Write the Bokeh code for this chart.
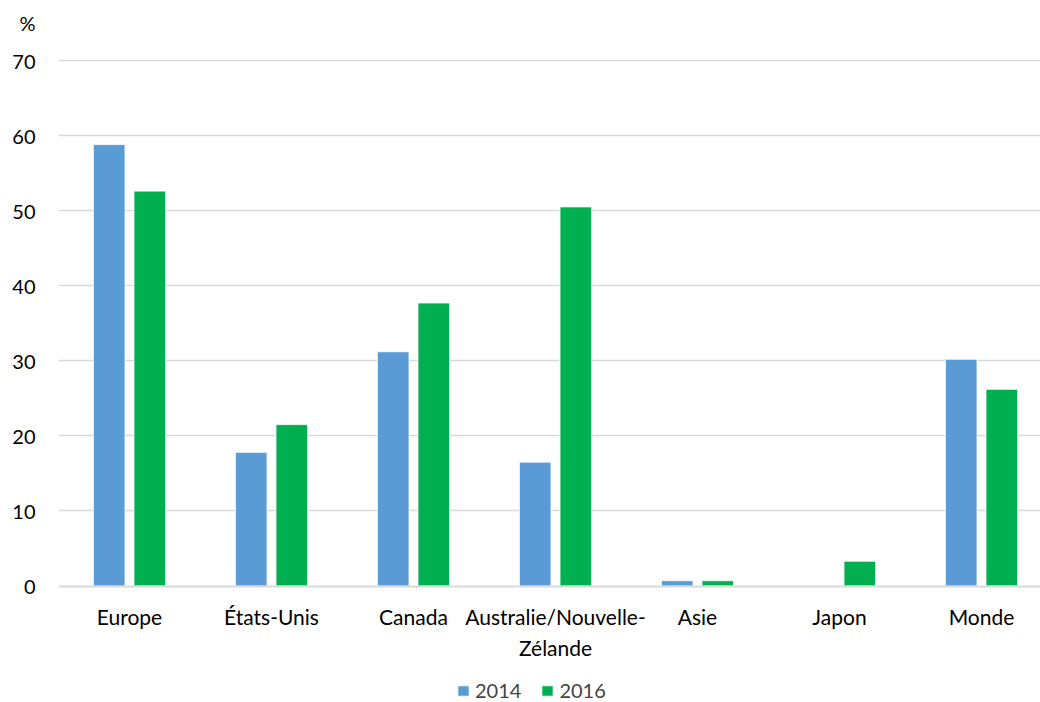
import numpy as np
from bokeh.plotting import figure
from bokeh.models import FixedTicker, Legend, LegendItem, Range1d, LinearAxis
from bokeh.embed import file_html
from bokeh.resources import INLINE

categories = ["Europe", "États-Unis", "Canada", "Australie/Nouvelle-\nZélande", "Asie", "Japon", "Monde"]
v2014 = [58.8, 17.8, 31.2, 16.5, 0.7, float("nan"), 30.2]
v2016 = [52.6, 21.5, 37.7, 50.5, 0.7, 3.3, 26.2]
series_names = ["2014", "2016"]
y_ticks = [0, 10, 20, 30, 40, 50, 60, 70]
unit_label = "%"

FONT = "Lato"
BLUE = "#5B9BD5"
GREEN = "#00B050"
GRID = "#D9D9D9"

idx = np.arange(len(categories))

# frame spans the full height of the canvas; 0..70 occupies y = 585.5 .. 60 px
PX_PER_UNIT = 525.5 / 70
y_top = 70 + 60 / PX_PER_UNIT
y_bottom = -(702 - 60 - 525.5) / PX_PER_UNIT
unit_pos = 70 + (60 - 22.5) / PX_PER_UNIT  # where the "%" unit sits, above the 70 tick

p = figure(width=1040, height=702, output_backend="svg", toolbar_location=None,
           x_range=Range1d(-0.5, -0.5 + 982 / 142), y_range=Range1d(y_bottom, y_top),
           min_border_left=58, min_border_right=0, min_border_top=0, min_border_bottom=0,
           outline_line_color=None, background_fill_color="white", border_fill_color="white",
           x_axis_location=None)

off = 0.143
w = 0.2225
r1 = p.vbar(x=idx - off, top=v2014, width=w, fill_color=BLUE, line_color="white", line_width=0.8)
r2 = p.vbar(x=idx + off, top=v2016, width=w, fill_color=GREEN, line_color="white", line_width=0.8)

# category axis drawn at y = 0 inside the frame
xax = LinearAxis(fixed_location=0)
xax.ticker = FixedTicker(ticks=list(idx))
xax.major_label_overrides = {int(i): c for i, c in zip(idx, categories)}
xax.major_tick_out = 0
xax.major_tick_in = 0
xax.minor_tick_out = 0
xax.minor_tick_in = 0
xax.axis_line_color = GRID
xax.axis_line_width = 2
xax.major_label_standoff = 18
xax.major_label_text_font = FONT
xax.major_label_text_font_size = "21px"
xax.major_label_text_color = "#000000"
xax.major_label_text_line_height = 1.22
p.add_layout(xax, "below")

p.yaxis.ticker = FixedTicker(ticks=y_ticks + [unit_pos])
p.yaxis.major_label_overrides = {unit_pos: unit_label}
p.yaxis.axis_line_color = None
p.yaxis.major_tick_out = 0
p.yaxis.major_tick_in = 0
p.yaxis.minor_tick_out = 0
p.yaxis.minor_tick_in = 0
p.yaxis.major_label_standoff = 23
p.yaxis.major_label_text_font = FONT
p.yaxis.major_label_text_font_size = "20px"
p.yaxis.major_label_text_color = "#000000"

p.xgrid.grid_line_color = None
p.ygrid.ticker = FixedTicker(ticks=y_ticks[1:])
p.ygrid.grid_line_color = GRID
p.ygrid.grid_line_width = 1.5

legend = Legend(items=[LegendItem(label=series_names[0], renderers=[r1]),
                       LegendItem(label=series_names[1], renderers=[r2])],
                orientation="horizontal", location=(398, 0),
                label_text_font=FONT, label_text_font_size="20px",
                glyph_width=14, glyph_height=13, label_standoff=5, spacing=19,
                padding=0, margin=0, border_line_color=None, background_fill_alpha=0)
p.add_layout(legend, "center")

open("out.html", "w").write(file_html(p, INLINE))
